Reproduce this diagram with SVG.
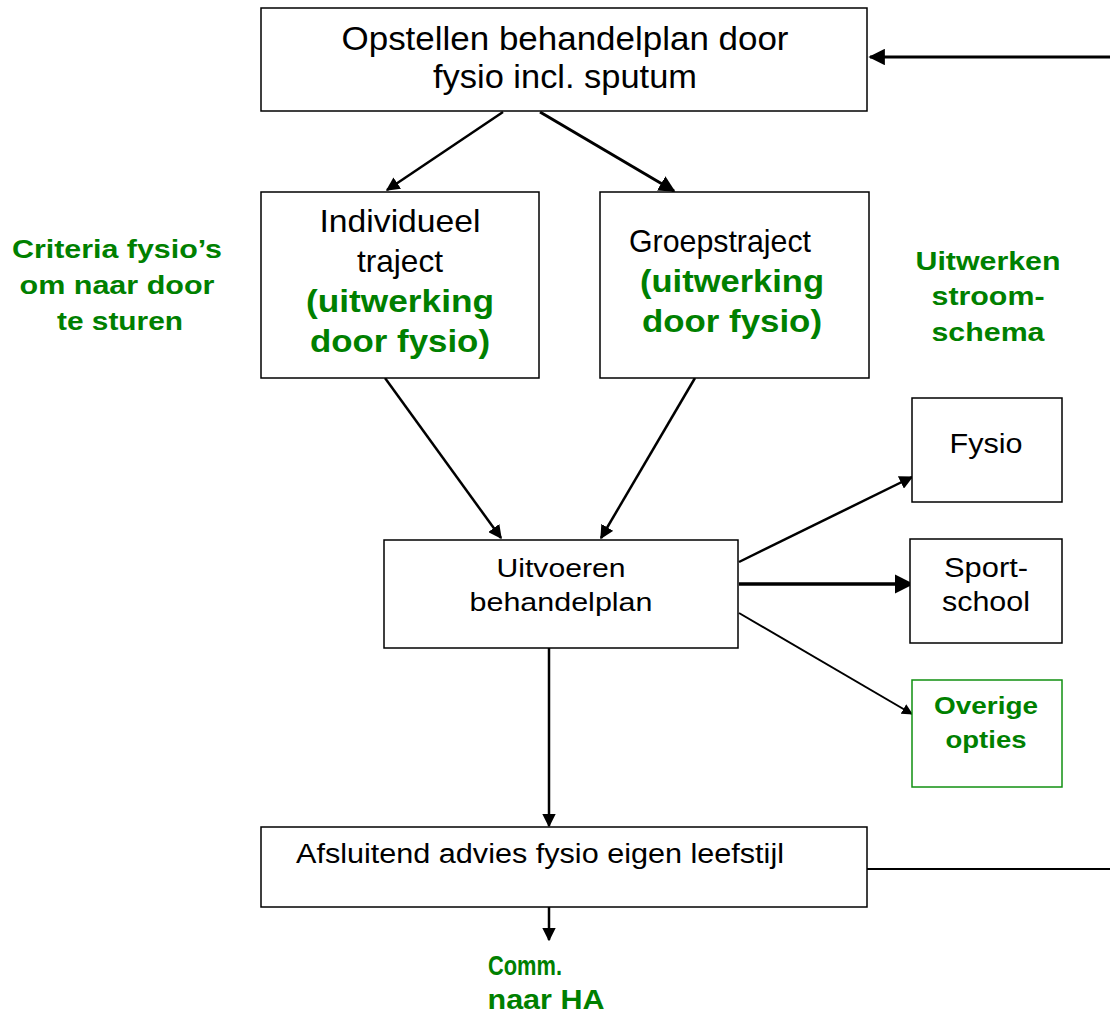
<svg xmlns="http://www.w3.org/2000/svg" width="1110" height="1013" viewBox="0 0 1110 1013">
<style>
.box{fill:#fff;stroke:#000;stroke-width:1.5}
.gbox{fill:#fff;stroke:#109010;stroke-width:1.5}
.t{font-family:"Liberation Sans",Arial,sans-serif;fill:#000;text-anchor:middle}
.g{font-family:"Liberation Sans",Arial,sans-serif;fill:#008000;font-weight:bold;text-anchor:middle}
.c{stroke:#000;stroke-width:2.5;fill:none;marker-end:url(#ah)}
</style>
<defs>
<marker id="ah" viewBox="0 0 10 10" refX="9" refY="5" markerWidth="5.5" markerHeight="5.5" orient="auto" markerUnits="strokeWidth">
<path d="M0,0 L10,5 L0,10 z" fill="#000"/>
</marker>
</defs>
<rect width="1110" height="1013" fill="#fff"/>
<g id="connectors">
<line class="c" x1="1110" y1="57" x2="870" y2="57" style="stroke-width:3"/>
<line class="c" x1="503" y1="112" x2="387" y2="190"/>
<line class="c" x1="540" y1="112" x2="674" y2="191" style="stroke-width:3"/>
<line class="c" x1="385" y1="378" x2="501" y2="538"/>
<line class="c" x1="695" y1="378" x2="601" y2="538"/>
<line class="c" x1="739" y1="562" x2="912" y2="477"/>
<line class="c" x1="739" y1="584" x2="912" y2="584" style="stroke-width:3.5"/>
<line class="c" x1="739" y1="613" x2="912" y2="714" style="stroke-width:2"/>
<line class="c" x1="549" y1="648" x2="549" y2="826"/>
<line x1="867" y1="869" x2="1110" y2="869" stroke="#000" stroke-width="2"/>
<line class="c" x1="549" y1="907" x2="549" y2="940"/>
</g>
<g id="n1">
<rect class="box" x="261" y="8" width="606" height="103"/>
<text class="t" x="565" y="50" font-size="33" textLength="447" lengthAdjust="spacingAndGlyphs">Opstellen behandelplan door</text>
<text class="t" x="565" y="88" font-size="33" textLength="264" lengthAdjust="spacingAndGlyphs">fysio incl. sputum</text>
</g>
<g id="n2">
<rect class="box" x="261" y="192" width="278" height="186"/>
<text class="t" x="400" y="232" font-size="32" textLength="161" lengthAdjust="spacingAndGlyphs">Individueel</text>
<text class="t" x="400" y="272" font-size="32" textLength="86" lengthAdjust="spacingAndGlyphs">traject</text>
<text class="g" x="400" y="312" font-size="31" textLength="188" lengthAdjust="spacingAndGlyphs">(uitwerking</text>
<text class="g" x="400" y="352" font-size="31" textLength="180" lengthAdjust="spacingAndGlyphs">door fysio)</text>
</g>
<g id="n3">
<rect class="box" x="600" y="192" width="269" height="186"/>
<text class="t" x="720" y="252" font-size="32" textLength="182" lengthAdjust="spacingAndGlyphs">Groepstraject</text>
<text class="g" x="732" y="292" font-size="31" textLength="184" lengthAdjust="spacingAndGlyphs">(uitwerking</text>
<text class="g" x="732" y="332" font-size="31" textLength="180" lengthAdjust="spacingAndGlyphs">door fysio)</text>
</g>
<g id="n4">
<rect class="box" x="384" y="540" width="354" height="108"/>
<text class="t" x="561" y="577" font-size="26" textLength="129" lengthAdjust="spacingAndGlyphs">Uitvoeren</text>
<text class="t" x="561" y="611" font-size="26" textLength="183" lengthAdjust="spacingAndGlyphs">behandelplan</text>
</g>
<g id="n5">
<rect class="box" x="912" y="398" width="150" height="104"/>
<text class="t" x="986" y="453" font-size="27" textLength="73" lengthAdjust="spacingAndGlyphs">Fysio</text>
</g>
<g id="n6">
<rect class="box" x="910" y="539" width="152" height="104"/>
<text class="t" x="986" y="577" font-size="27" textLength="84" lengthAdjust="spacingAndGlyphs">Sport-</text>
<text class="t" x="986" y="611" font-size="27" textLength="88" lengthAdjust="spacingAndGlyphs">school</text>
</g>
<g id="n7">
<rect class="gbox" x="912" y="680" width="150" height="107"/>
<text class="g" x="986" y="714" font-size="24" textLength="104" lengthAdjust="spacingAndGlyphs">Overige</text>
<text class="g" x="986" y="748" font-size="24" textLength="81" lengthAdjust="spacingAndGlyphs">opties</text>
</g>
<g id="n8">
<rect class="box" x="261" y="827" width="606" height="80"/>
<text class="t" x="540" y="863" font-size="27" textLength="488" lengthAdjust="spacingAndGlyphs">Afsluitend advies fysio eigen leefstijl</text>
</g>
<g id="n9">
<text class="g" x="525" y="975" font-size="27" textLength="74" lengthAdjust="spacingAndGlyphs">Comm.</text>
<text class="g" x="546" y="1009" font-size="27" textLength="117" lengthAdjust="spacingAndGlyphs">naar HA</text>
</g>
<g id="lbl-left">
<text class="g" x="117" y="258" font-size="26" textLength="210" lengthAdjust="spacingAndGlyphs">Criteria fysio’s</text>
<text class="g" x="117" y="294" font-size="26" textLength="195" lengthAdjust="spacingAndGlyphs">om naar door</text>
<text class="g" x="120" y="330" font-size="26" textLength="126" lengthAdjust="spacingAndGlyphs">te sturen</text>
</g>
<g id="lbl-right">
<text class="g" x="988" y="270" font-size="26" textLength="145" lengthAdjust="spacingAndGlyphs">Uitwerken</text>
<text class="g" x="988" y="305" font-size="26" textLength="113" lengthAdjust="spacingAndGlyphs">stroom-</text>
<text class="g" x="988" y="341" font-size="26" textLength="113" lengthAdjust="spacingAndGlyphs">schema</text>
</g>
</svg>
